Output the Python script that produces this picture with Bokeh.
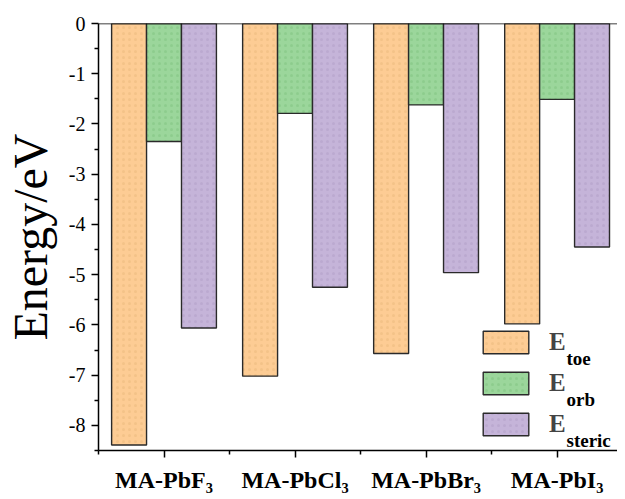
from bokeh.plotting import figure
from bokeh.models import FixedTicker, Span, Legend, LegendItem, Label, Range1d
from bokeh.embed import file_html
from bokeh.resources import INLINE

# ---- data ----
categories = ["MA-PbF₃", "MA-PbCl₃", "MA-PbBr₃", "MA-PbI₃"]
e_toe = [-8.39, -7.02, -6.57, -5.98]
e_orb = [-2.35, -1.79, -1.62, -1.51]
e_steric = [-6.06, -5.25, -4.96, -4.45]
series_subscripts = ["toe", "orb", "steric"]
y_tick_values = [0, -1, -2, -3, -4, -5, -6, -7, -8]
y_tick_labels = ["0", "-1", "-2", "-3", "-4", "-5", "-6", "-7", "-8"]

colors = ["#FDCC94", "#9BD69B", "#C5B4D9"]
hatch_colors = ["#D9A262", "#62AE62", "#9A86B4"]
FONT = "Liberation Serif"

p = figure(width=617, height=496, output_backend="svg", toolbar_location=None,
           x_range=Range1d(-0.5, 3.461), y_range=Range1d(-8.5, 0),
           min_border_left=91, min_border_right=0, min_border_top=23,
           min_border_bottom=46)
p.outline_line_color = None
p.xgrid.visible = False
p.ygrid.visible = False
p.background_fill_color = "white"

bar_w = 0.8 / 3
offsets = [-bar_w, 0.0, bar_w]
series = [e_toe, e_orb, e_steric]
renderers = []
idx = list(range(len(categories)))
for s, vals in enumerate(series):
    xs = [i + offsets[s] for i in idx]
    r = p.vbar(x=xs, top=0, bottom=vals, width=bar_w,
               fill_color=colors[s], line_color="#2a2a2a", line_width=1.4,
               hatch_pattern="dot", hatch_color=hatch_colors[s],
               hatch_alpha=0.25, hatch_scale=6, hatch_weight=1)
    renderers.append(r)

p.add_layout(Span(location=0, dimension="width", line_color="black", line_width=1.5))

# x axis
xa = p.xaxis[0]
xa.ticker = FixedTicker(ticks=idx, minor_ticks=[-0.5, 0.5, 1.5, 2.5, 3.5])
xa.major_label_overrides = {i: c for i, c in zip(idx, categories)}
xa.major_label_text_font = FONT
xa.major_label_text_font_style = "bold"
xa.major_label_text_font_size = "24px"
xa.major_label_text_color = "black"
xa.major_label_standoff = 9
xa.axis_line_width = 1.5
xa.axis_line_color = "black"
xa.major_tick_line_width = 1.5
xa.minor_tick_line_width = 1.5
xa.major_tick_in = 0
xa.major_tick_out = 7
xa.minor_tick_in = 0
xa.minor_tick_out = 4

# y axis
ya = p.yaxis[0]
ya.ticker = FixedTicker(ticks=y_tick_values,
                        minor_ticks=[v - 0.5 for v in y_tick_values])
ya.major_label_overrides = {v: t for v, t in zip(y_tick_values, y_tick_labels)}
ya.axis_label = "Energy/eV"
ya.axis_label_text_font = FONT
ya.axis_label_text_font_style = "normal"
ya.axis_label_text_font_size = "48px"
ya.axis_label_text_color = "black"
ya.axis_label_standoff = 9
ya.major_label_text_font = FONT
ya.major_label_text_font_size = "20px"
ya.major_label_text_color = "black"
ya.major_label_standoff = 6
ya.axis_line_width = 1.5
ya.axis_line_color = "black"
ya.major_tick_line_width = 1.5
ya.minor_tick_line_width = 1.5
ya.major_tick_in = 0
ya.major_tick_out = 7
ya.minor_tick_in = 0
ya.minor_tick_out = 4

# legend
items = [LegendItem(label="E", renderers=[r]) for r in renderers]
legend = Legend(items=items, location=(379, 12), padding=0, margin=0,
                spacing=13, glyph_width=57, glyph_height=28,
                label_standoff=15, label_text_font=FONT,
                label_text_font_style="bold", label_text_font_size="25px",
                label_height=28, border_line_color=None,
                background_fill_alpha=0)
p.add_layout(legend, "center")

for k, sub in enumerate(series_subscripts):
    p.add_layout(Label(x=468, y=92 - 41 * k, x_units="screen", y_units="screen",
                       text=sub, text_font=FONT, text_font_style="bold",
                       text_font_size="19px", text_baseline="alphabetic",
                       text_color="black"))

open("out.html", "w").write(file_html(p, INLINE))
